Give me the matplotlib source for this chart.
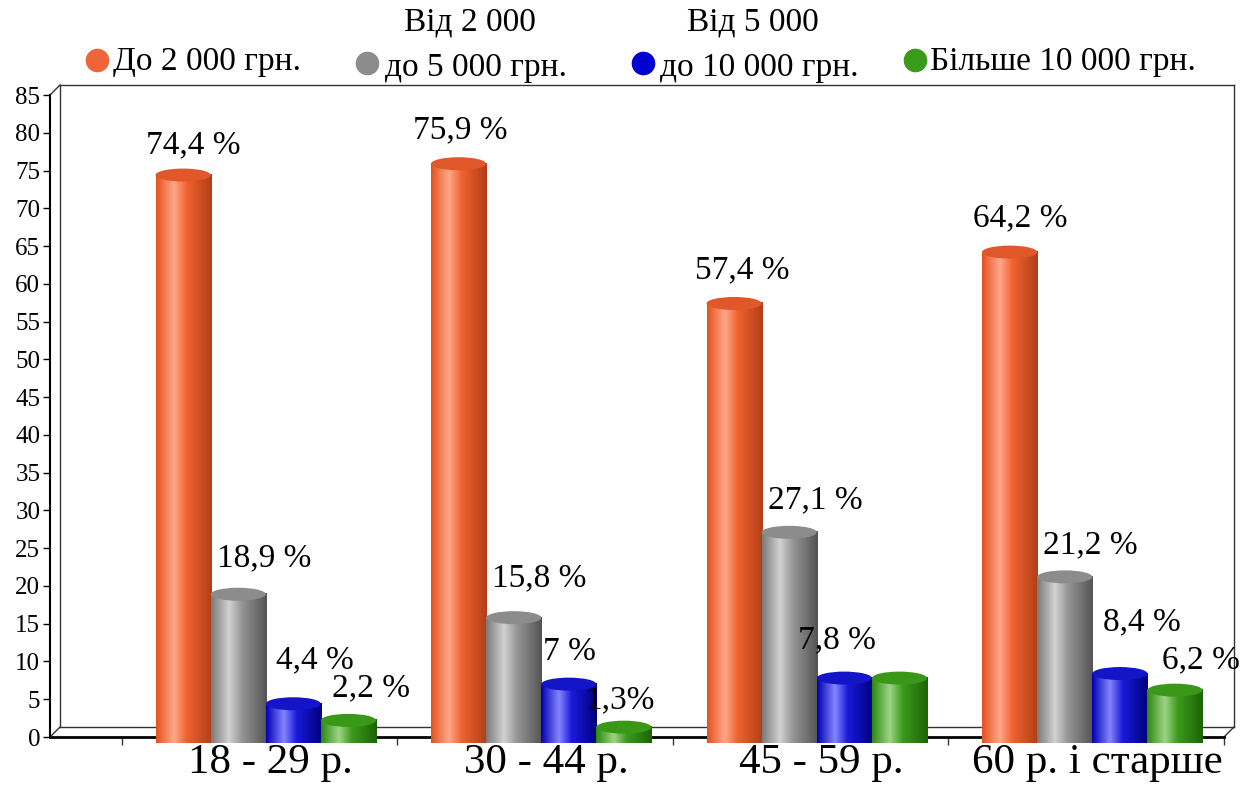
import numpy as np
import matplotlib
matplotlib.use('Agg')
import matplotlib.pyplot as plt
from matplotlib.patches import Ellipse, PathPatch
from matplotlib.path import Path
from matplotlib.colors import LinearSegmentedColormap
from matplotlib.lines import Line2D

plt.rcParams['font.family'] = ['Liberation Serif', 'DejaVu Serif']

categories = ['18 - 29 р.', '30 - 44 р.', '45 - 59 р.', '60 р. і старше']
series = ['До 2 000 грн.', 'Від 2 000\nдо 5 000 грн.',
          'Від 5 000\nдо 10 000 грн.', 'Більше 10 000 грн.']
v_to2000 = [74.4, 75.9, 57.4, 64.2]
v_2000_5000 = [18.9, 15.8, 27.1, 21.2]
v_5000_10000 = [4.4, 7.0, 7.8, 8.4]
v_over10000 = [2.2, 1.3, 7.8, 6.2]
labels_to2000 = ['74,4 %', '75,9 %', '57,4 %', '64,2 %']
labels_2000_5000 = ['18,9 %', '15,8 %', '27,1 %', '21,2 %']
labels_5000_10000 = ['4,4 %', '7 %', '7,8 %', '8,4 %']
labels_over10000 = ['2,2 %', '1,3%', None, '6,2 %']

values = [v_to2000, v_2000_5000, v_5000_10000, v_over10000]
labels = [labels_to2000, labels_2000_5000, labels_5000_10000, labels_over10000]

# gradient stops: left edge, highlight, mid, right edge ; cap colour
grads = [['#E4521F', '#FFA788', '#F0622F', '#B23E17'],
         ['#7A7A7A', '#D2D2D2', '#969696', '#545454'],
         ['#0000B4', '#8585FF', '#1A1AD8', '#00007E'],
         ['#2C8A0E', '#9ED486', '#3C9A1C', '#1C6406']]
caps = ['#E0582A', '#8C8C8C', '#1414C8', '#3A9818']
legend_colors = ['#F0643A', '#8C8C8C', '#0000D0', '#3A9A1A']

# label nudges in pixels (dx, dy above bar top)
nudge = [[(10, 30), (2, 34), (8, 33), (11, 34)],
         [(26, 36), (25, 40), (26, 32), (26, 32)],
         [(22, 44), (1, 32), (-7, 38), (22, 52)],
         [(23, 32), (-4, 27), (0, 0), (26, 30)]]

W, H = 1248, 787
fig = plt.figure(figsize=(W / 100, H / 100), dpi=100)
ax = fig.add_axes([50 / W, 50 / H, 1174 / W, 642 / H])
ax.set_xlim(-0.761, 3.5)
ax.set_ylim(0, 85)

px_y = 85 / 642.0
bw = 0.2
ell_h = 13 * px_y

for s in range(4):
    cmap = LinearSegmentedColormap.from_list('g%d' % s, list(zip([0, 0.32, 0.55, 1], grads[s])))
    grad = np.linspace(0, 1, 200).reshape(1, -1)
    for i in range(4):
        h = values[s][i]
        xc = i + (s - 1.5) * bw + 0.022
        x0, x1 = xc - bw / 2, xc + bw / 2
        t = np.linspace(np.pi, 2 * np.pi, 40)
        pts = [(xc + bw / 2 * np.cos(a), ell_h / 2 * np.sin(a)) for a in t]
        pts += [(x1, h), (x0, h), (x0, 0)]
        path = Path(pts + [pts[0]])
        im = ax.imshow(grad, cmap=cmap, extent=[x0, x1, -ell_h / 2, h],
                       aspect='auto', zorder=3, clip_on=False)
        clip = PathPatch(path, transform=ax.transData, facecolor='none', edgecolor='none')
        ax.add_patch(clip)
        im.set_clip_path(clip)
        ax.add_patch(Ellipse((xc, h), bw, ell_h, facecolor=caps[s],
                             edgecolor='none', zorder=4))
        if labels[s][i]:
            dx, dy = nudge[s][i]
            ax.annotate(labels[s][i], (xc, h), xytext=(dx * 0.72, dy * 0.72),
                        textcoords='offset points', ha='center', va='center',
                        fontsize=24, zorder=5)

ax.set_xlim(-0.761, 3.5)
ax.set_ylim(0, 85)

# axes styling
for sp in ['top', 'right']:
    ax.spines[sp].set_visible(False)
ax.spines['left'].set_linewidth(1.5)
ax.spines['bottom'].set_linewidth(2)
ax.set_yticks(np.arange(0, 86, 5))
ax.tick_params(axis='y', labelsize=18, length=5, width=1, pad=2)
ax.set_xticks([-0.5, 0.5, 1.5, 2.5, 3.5])
ax.set_xticklabels([])
ax.tick_params(axis='x', length=6, width=1, color='#333333')
ax.set_xticks(np.arange(4) + 0.04, minor=True)
ax.set_xticklabels(categories, minor=True, fontsize=31)
ax.tick_params(axis='x', which='minor', length=0, pad=5)

# 3D box back wall
dx, dy = 10 / 1174, 10 / 642
box = [([dx, 1 + dx], [dy, dy]), ([dx, dx], [dy, 1 + dy]),
       ([1 + dx, 1 + dx], [dy, 1 + dy]), ([dx, 1 + dx], [1 + dy, 1 + dy]),
       ([0, dx], [0, dy]), ([1, 1 + dx], [0, dy]), ([0, dx], [1, 1 + dy])]
for xs, ys in box:
    ax.plot(xs, ys, color='#333333', lw=1, transform=ax.transAxes,
            clip_on=False, zorder=1)

# legend drawn by hand
leg_pos = [(97, 60, 113), (367, 63, 385), (643, 63, 660), (915, 60, 930)]
for k, lab in enumerate(series):
    mx, my, tx = leg_pos[k]
    fig.add_artist(Line2D([mx / W], [1 - my / H], marker='o', markersize=16,
                          color=legend_colors[k], transform=fig.transFigure))
    parts = lab.split('\n')
    if len(parts) == 1:
        fig.text(tx / W, 1 - (my + 2) / H, parts[0], fontsize=24, va='center', ha='left')
    else:
        line2 = fig.text(tx / W, 1 - 68 / H, parts[1], fontsize=24, va='center', ha='left')
        fig.canvas.draw()
        bb = line2.get_window_extent()
        fig.text((bb.x0 + bb.x1) / 2 / W - 6 / W, 1 - 22 / H, parts[0],
                 fontsize=24, va='center', ha='center')

fig.savefig('out.png', dpi=100)
